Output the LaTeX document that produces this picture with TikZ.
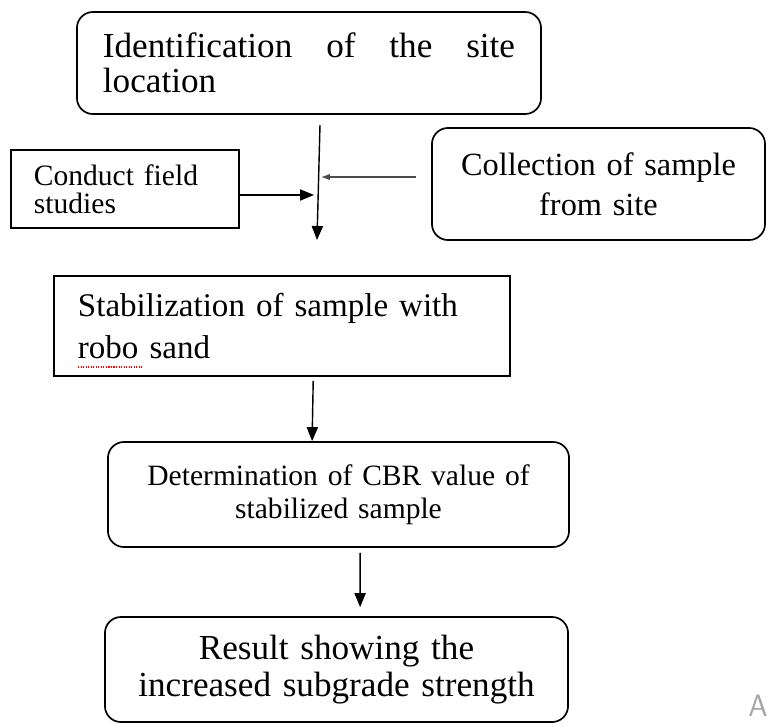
\documentclass[tikz,border=0pt]{standalone}
\usepackage{fontspec}
\setmainfont{Liberation Serif}
\usetikzlibrary{arrows.meta,positioning,calc}

\begin{document}
\begin{tikzpicture}[x=0.025cm, y=-0.025cm,
      arr/.style={-{Triangle[length=0.35cm, width=0.28cm]}, line width=1pt, black},
      arrG/.style={-{Latex[length=0.22cm, width=0.16cm]}, line width=0.8pt, black!70},
      rbox/.style={draw, line width=1.2pt, rounded corners=0.4cm, inner sep=0pt},
      sbox/.style={draw, line width=1.2pt, inner sep=0pt},
    ]
    \useasboundingbox (0,0) rectangle (769,725);

    % boxes
    \node[rbox, minimum width=11.6cm, minimum height=2.55cm, text width=10.3cm, align=justify,
          font=\fontsize{25}{25}\selectfont] (ident) at (309,63)
          {Identification of the site\linebreak location};
    \node[sbox, minimum width=5.7cm, minimum height=1.95cm, inner xsep=0.575cm, text width=4.55cm,
          align=left, font=\fontsize{21}{20}\selectfont] (field) at (125,189)
          {Conduct field\\studies};
    \node[rbox, minimum width=8.325cm, minimum height=2.8cm, text width=7.5cm, align=center,
          font=\fontsize{23}{28.5}\selectfont] (collect) at (598.5,184)
          {Collection of sample\\from site};
    \node[sbox, minimum width=11.4cm, minimum height=2.5cm, inner xsep=0.6cm, text width=10.2cm,
          align=left, font=\fontsize{23.5}{30.5}\selectfont] (stab) at (282,326)
          {Stabilization of sample with\\robo sand};
    \node[rbox, minimum width=11.525cm, minimum height=2.625cm, text width=10.5cm, align=center,
          font=\fontsize{21}{23.5}\selectfont] (cbr) at (338.5,494.5)
          {Determination of CBR value of\\stabilized sample};
    \node[rbox, minimum width=11.575cm, minimum height=2.625cm, text width=10.5cm, align=center,
          font=\fontsize{25}{26.5}\selectfont] (result) at (336.5,669.5)
          {Result showing the\\increased subgrade strength};

    \coordinate (jtop) at (320,125);
    \coordinate (jbot) at (317,240);
    \coordinate (fin)  at (314,195);
    \coordinate (cin)  at (321,177);

    % connectors
    \draw[arr] (jtop) -- (jbot);
    \draw[arr] (field.east |- fin) -- (fin);
    \draw[arrG, shorten <=0.375cm] (collect.west |- cin) -- (cin);
    \draw[arr] ([xshift=0.78cm,yshift=-0.1cm]stab.south) -- ([xshift=-0.66cm]cbr.north);
    \draw[arr, shorten <=0.125cm, shorten >=0.225cm] ([xshift=0.54cm]cbr.south) -- ([xshift=0.59cm]result.north);

    % spell-check mark and watermark
    \draw[red, densely dotted, line width=0.8pt] (78,367) -- (143,367);
    \node[anchor=east, inner sep=0pt, text=black!35, font=\sffamily\fontsize{22}{22}\selectfont] (wm) at (768,706) {A};
  \end{tikzpicture}
\end{document}
